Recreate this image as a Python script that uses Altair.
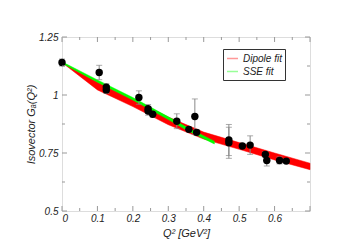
import altair as alt
import pandas as pd

# data points
q2 = [0.0, 0.105, 0.125, 0.125, 0.217, 0.243, 0.243, 0.256, 0.324, 0.358, 0.375, 0.380,
      0.471, 0.471, 0.509, 0.531, 0.574, 0.578, 0.614, 0.633]
ga = [1.140, 1.097, 1.034, 1.022, 0.989, 0.941, 0.931, 0.917, 0.887, 0.852, 0.907, 0.839,
      0.806, 0.794, 0.780, 0.784, 0.744, 0.718, 0.718, 0.715]
err = [0.015, 0.031, 0.015, 0.015, 0.029, 0.018, 0.018, 0.012, 0.032, 0.010, 0.076, 0.012,
       0.067, 0.067, 0.010, 0.040, 0.012, 0.024, 0.015, 0.010]

# dipole fit band
dip_x = [0.0, 0.1, 0.2, 0.3, 0.4, 0.5, 0.6, 0.7]
dip_hi = [1.140, 1.056, 0.982, 0.905, 0.840, 0.795, 0.750, 0.706]
dip_lo = [1.140, 1.022, 0.950, 0.872, 0.810, 0.766, 0.720, 0.678]

# SSE fit band
sse_x = [0.0, 0.1, 0.2, 0.3, 0.35, 0.43]
sse_hi = [1.143, 1.065, 0.989, 0.906, 0.863, 0.801]
sse_lo = [1.137, 1.055, 0.978, 0.894, 0.850, 0.789]

x_major = [0.0, 0.1, 0.2, 0.3, 0.4, 0.5, 0.6, 0.7]
x_minor = [0.05, 0.15, 0.25, 0.35, 0.45, 0.55, 0.65]
y_major = [0.5, 0.75, 1.0, 1.25]
y_minor = [0.625, 0.875, 1.125]

W, H = 248, 174
FONT = "Liberation Sans"

pts = pd.DataFrame({"x": q2, "y": ga, "lo": [a - e for a, e in zip(ga, err)],
                    "hi": [a + e for a, e in zip(ga, err)]})
bands = pd.concat([
    pd.DataFrame({"x": dip_x, "hi": dip_hi, "lo": dip_lo, "fit": "Dipole fit"}),
    pd.DataFrame({"x": sse_x, "hi": sse_hi, "lo": sse_lo, "fit": "SSE fit"}),
])

xs = alt.Scale(domain=[0, 0.7], nice=False, zero=False)
ys = alt.Scale(domain=[0.5, 1.25], nice=False, zero=False)

xax = alt.Axis(values=x_major[:-1], labelExpr="'' + datum.value", grid=False, ticks=False, domain=False,
               labelFont=FONT, labelFontStyle="italic", labelFontSize=10, labelColor="#222",
               labelPadding=2, title="Q² [GeV²]", titleFont=FONT, titleFontStyle="italic",
               titleFontWeight="normal", titleFontSize=11, titleColor="#222", titlePadding=4)
yax = alt.Axis(values=y_major, labelExpr="'' + datum.value", grid=False, ticks=False, domain=False,
               labelFont=FONT, labelFontStyle="italic", labelFontSize=10, labelColor="#222",
               labelPadding=4, title="Isovector Gₐ(Q²)", titleFont=FONT, titleFontStyle="italic",
               titleFontWeight="normal", titleFontSize=11, titleColor="#222", titlePadding=2)

cscale = alt.Scale(domain=["Dipole fit", "SSE fit"], range=["#ff0000", "#00ff00"])
leg = alt.Legend(title=None, orient="none", legendX=161, legendY=12,
                 symbolType="stroke", symbolStrokeWidth=1.5, symbolOpacity=0.4,
                 symbolSize=120, labelFont=FONT, labelFontStyle="italic",
                 labelFontSize=10, labelColor="#222", strokeColor="#333",
                 padding=3, rowPadding=1, labelOffset=4)

band_layer = alt.Chart(bands).mark_area(opacity=1, strokeWidth=0.5).encode(
    x=alt.X("x:Q", scale=xs, axis=xax),
    y=alt.Y("hi:Q", scale=ys, axis=yax),
    y2="lo:Q",
    color=alt.Color("fit:N", scale=cscale, legend=leg),
    stroke=alt.Stroke("fit:N", scale=cscale, legend=leg),
    detail="fit:N",
)

err_layer = alt.Chart(pts).mark_rule(color="#888", strokeWidth=1).encode(
    x=alt.X("x:Q", scale=xs), y=alt.Y("lo:Q", scale=ys), y2="hi:Q")
cap_lo = alt.Chart(pts).mark_tick(color="#888", orient="horizontal", size=6, thickness=1).encode(
    x=alt.X("x:Q", scale=xs), y=alt.Y("lo:Q", scale=ys))
cap_hi = alt.Chart(pts).mark_tick(color="#888", orient="horizontal", size=6, thickness=1).encode(
    x=alt.X("x:Q", scale=xs), y=alt.Y("hi:Q", scale=ys))
pt_layer = alt.Chart(pts).mark_circle(color="black", size=55, opacity=1).encode(
    x=alt.X("x:Q", scale=xs), y=alt.Y("y:Q", scale=ys))

def xticks(vals, length):
    d = pd.DataFrame({"t": vals})
    b = alt.Chart(d).mark_rule(color="#999", strokeWidth=1).encode(
        x=alt.X("t:Q", scale=xs), y=alt.value(H), y2=alt.value(H - length))
    t = alt.Chart(d).mark_rule(color="#999", strokeWidth=1).encode(
        x=alt.X("t:Q", scale=xs), y=alt.value(0), y2=alt.value(length))
    return [b, t]

def yticks(vals, length):
    d = pd.DataFrame({"t": vals})
    l = alt.Chart(d).mark_rule(color="#999", strokeWidth=1).encode(
        y=alt.Y("t:Q", scale=ys), x=alt.value(0), x2=alt.value(length))
    r = alt.Chart(d).mark_rule(color="#999", strokeWidth=1).encode(
        y=alt.Y("t:Q", scale=ys), x=alt.value(W), x2=alt.value(W - length))
    return [l, r]

tick_layers = xticks(x_major, 5) + xticks(x_minor, 3) + yticks(y_major, 5) + yticks(y_minor, 3)

chart = alt.layer(band_layer, err_layer, cap_lo, cap_hi, pt_layer, *tick_layers).properties(
    width=W, height=H,
    autosize=alt.AutoSizeParams(type="none"),
    padding={"left": 54, "top": 29, "right": 30, "bottom": 30},
).configure_view(stroke="#999", strokeWidth=2).configure(background="white")

chart.save("out.html", embed_options={"renderer": "svg", "actions": False})
